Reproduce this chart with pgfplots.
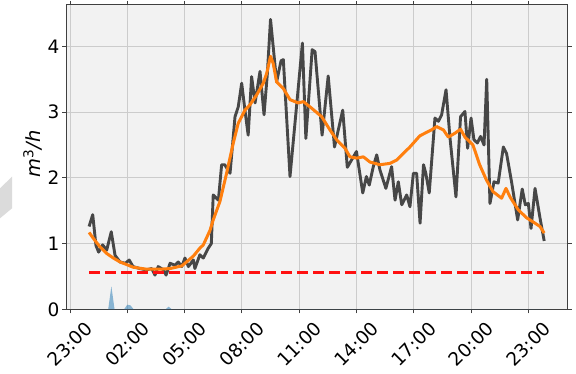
\documentclass[border=0pt]{standalone}
\usepackage{fontspec}
\setmainfont{DejaVu Sans}
\usepackage{pgfplots}
\pgfplotsset{compat=1.18}

\definecolor{panel}{HTML}{F2F2F2}
\definecolor{gridc}{HTML}{CCCCCC}
\definecolor{flowgray}{HTML}{474747}
\definecolor{trendorange}{HTML}{FF7F0E}
\definecolor{rainblue}{HTML}{1F77B4}
\definecolor{spine}{HTML}{404040}
\definecolor{threshred}{HTML}{FF1010}

\begin{document}
\begin{tikzpicture}
\path[use as bounding box] (0bp,0bp) rectangle (576bp,374bp);
\fill[black!14] (0bp,185.7bp) -- (12bp,197.3bp) -- (12bp,165.7bp) -- (0bp,155.7bp) -- cycle;
\begin{axis}[
  at={(66.5bp,64.7bp)}, anchor=south west,
  scale only axis, width=501bp, height=304.3bp,
  xmin=-0.183, xmax=26.05, ymin=0, ymax=4.63,
  axis background/.style={fill=panel},
  axis line style={spine, line width=1bp},
  grid=major, grid style={draw=gridc, line width=0.9bp},
  tick align=outside, major tick length=4bp,
  tick style={spine, line width=0.9bp},
  xtick={0,3,6,9,12,15,18,21,24},
  xticklabels={23:00,02:00,05:00,08:00,11:00,14:00,17:00,20:00,23:00},
  ytick={0,1,2,3,4},
  /pgf/number format/assume math mode=true,
  ticklabel style={font=\fontsize{18.5bp}{21bp}\selectfont},
  xticklabel style={rotate=45, anchor=center},
  xticklabel shift=31bp,
  yticklabel style={anchor=east, inner sep=0pt, xshift=-3bp},
  ylabel={\textit{m}\textsuperscript{3}\textit{/h}},
  every axis y label/.style={at={(axis description cs:-0.067,0.51)}, rotate=90, anchor=center,
    font=\fontsize{19.5bp}{22bp}\selectfont},
  clip=true,
]
% rainfall-type area along the bottom
\addplot[draw=none, fill=rainblue, fill opacity=0.5] coordinates {
  (1.0,0) (2.0,0) (2.167,0.35) (2.333,0) (2.833,0) (3.0,0.07) (3.167,0.06)
  (3.333,0) (5.0,0) (5.167,0.04) (5.333,0) (24.83,0)
} \closedcycle;
% measured flow
\addplot[flowgray, line width=2.9bp, line join=round] coordinates {
  (1.0,1.26) (1.19,1.44) (1.36,0.97) (1.5,0.87) (1.71,0.98) (1.92,0.90)
  (2.16,1.18) (2.36,0.82) (2.62,0.72) (2.9,0.70) (3.1,0.75) (3.3,0.65)
  (3.66,0.62) (4.0,0.60) (4.28,0.62) (4.45,0.52) (4.62,0.65) (4.9,0.60)
  (5.03,0.52) (5.24,0.70) (5.5,0.67) (5.67,0.72) (5.85,0.65) (6.02,0.78)
  (6.2,0.65) (6.46,0.75) (6.54,0.62) (6.8,0.83) (6.98,0.78) (7.24,0.93)
  (7.4,1.0) (7.5,1.74) (7.77,1.66) (7.94,2.2) (8.1,2.2) (8.38,2.07)
  (8.55,2.63) (8.64,2.93) (8.81,3.08) (8.99,3.44) (9.16,3.03) (9.33,2.65)
  (9.51,3.54) (9.69,3.14) (9.95,3.62) (10.16,2.96) (10.33,3.57) (10.5,4.41)
  (10.82,3.46) (11.05,3.78) (11.17,3.8) (11.52,2.02) (12.17,4.05) (12.35,2.6)
  (12.68,3.95) (12.83,3.92) (13.2,2.65) (13.52,3.55) (13.85,2.47) (14.28,3.03)
  (14.52,2.16) (15.0,2.4) (15.33,1.77) (15.52,2.02) (15.67,1.89) (15.88,2.17)
  (16.06,2.35) (16.23,2.12) (16.54,1.84) (16.84,2.17) (17.02,1.66) (17.19,1.94)
  (17.37,1.59) (17.63,1.74) (17.8,1.56) (17.98,2.07) (18.15,2.07) (18.33,1.31)
  (18.51,2.2) (18.63,2.07) (18.81,1.77) (19.11,2.91) (19.29,2.86) (19.46,2.96)
  (19.69,3.34) (19.9,2.6) (20.21,1.71) (20.45,2.93) (20.68,3.01) (20.82,2.45)
  (21.0,2.91) (21.15,2.58) (21.33,2.53) (21.5,2.63) (21.68,2.5) (21.82,3.5)
  (21.99,1.61) (22.2,1.94) (22.42,1.92) (22.69,2.47) (22.86,2.37) (23.12,1.94)
  (23.44,1.36) (23.68,1.83) (23.84,1.59) (24.0,1.61) (24.14,1.23) (24.35,1.84)
  (24.61,1.39) (24.83,1.04)
};
% smoothed trend
\addplot[trendorange, line width=3bp, line join=round] coordinates {
  (1.0,1.17) (1.22,1.08) (1.57,0.95) (1.92,0.85) (2.27,0.78) (2.62,0.72)
  (2.97,0.68) (3.31,0.64) (4.01,0.61) (4.71,0.61) (5.24,0.62) (5.85,0.66)
  (6.1,0.72) (6.46,0.81) (6.8,0.93) (6.98,0.98) (7.33,1.2) (7.5,1.36)
  (7.85,1.64) (8.2,2.07) (8.55,2.53) (8.81,2.83) (9.16,3.03) (9.42,3.11)
  (9.77,3.26) (10.12,3.44) (10.3,3.59) (10.5,3.85) (10.64,3.74) (10.82,3.46)
  (11.17,3.36) (11.52,3.19) (11.95,3.14) (12.22,3.16) (12.65,3.06) (13.18,2.93)
  (13.61,2.73) (13.96,2.58) (14.4,2.45) (14.66,2.32) (15.01,2.30) (15.36,2.32)
  (15.71,2.24) (16.23,2.2) (16.75,2.22) (17.1,2.27) (17.45,2.37) (17.8,2.47)
  (18.32,2.64) (18.59,2.68) (18.93,2.73) (19.2,2.78) (19.55,2.73) (19.81,2.62)
  (20.16,2.68) (20.45,2.74) (20.68,2.62) (21.1,2.5) (21.45,2.2) (21.8,1.97)
  (22.15,1.79) (22.6,1.69) (22.83,1.84) (23.04,1.71) (23.48,1.51) (23.92,1.39)
  (24.35,1.31) (24.61,1.26) (24.83,1.16)
};
% threshold level
\addplot[threshred, line width=3bp, dash pattern=on 11bp off 5bp] coordinates {
  (1.0,0.56) (24.83,0.56)
};
\end{axis}
\end{tikzpicture}
\end{document}
